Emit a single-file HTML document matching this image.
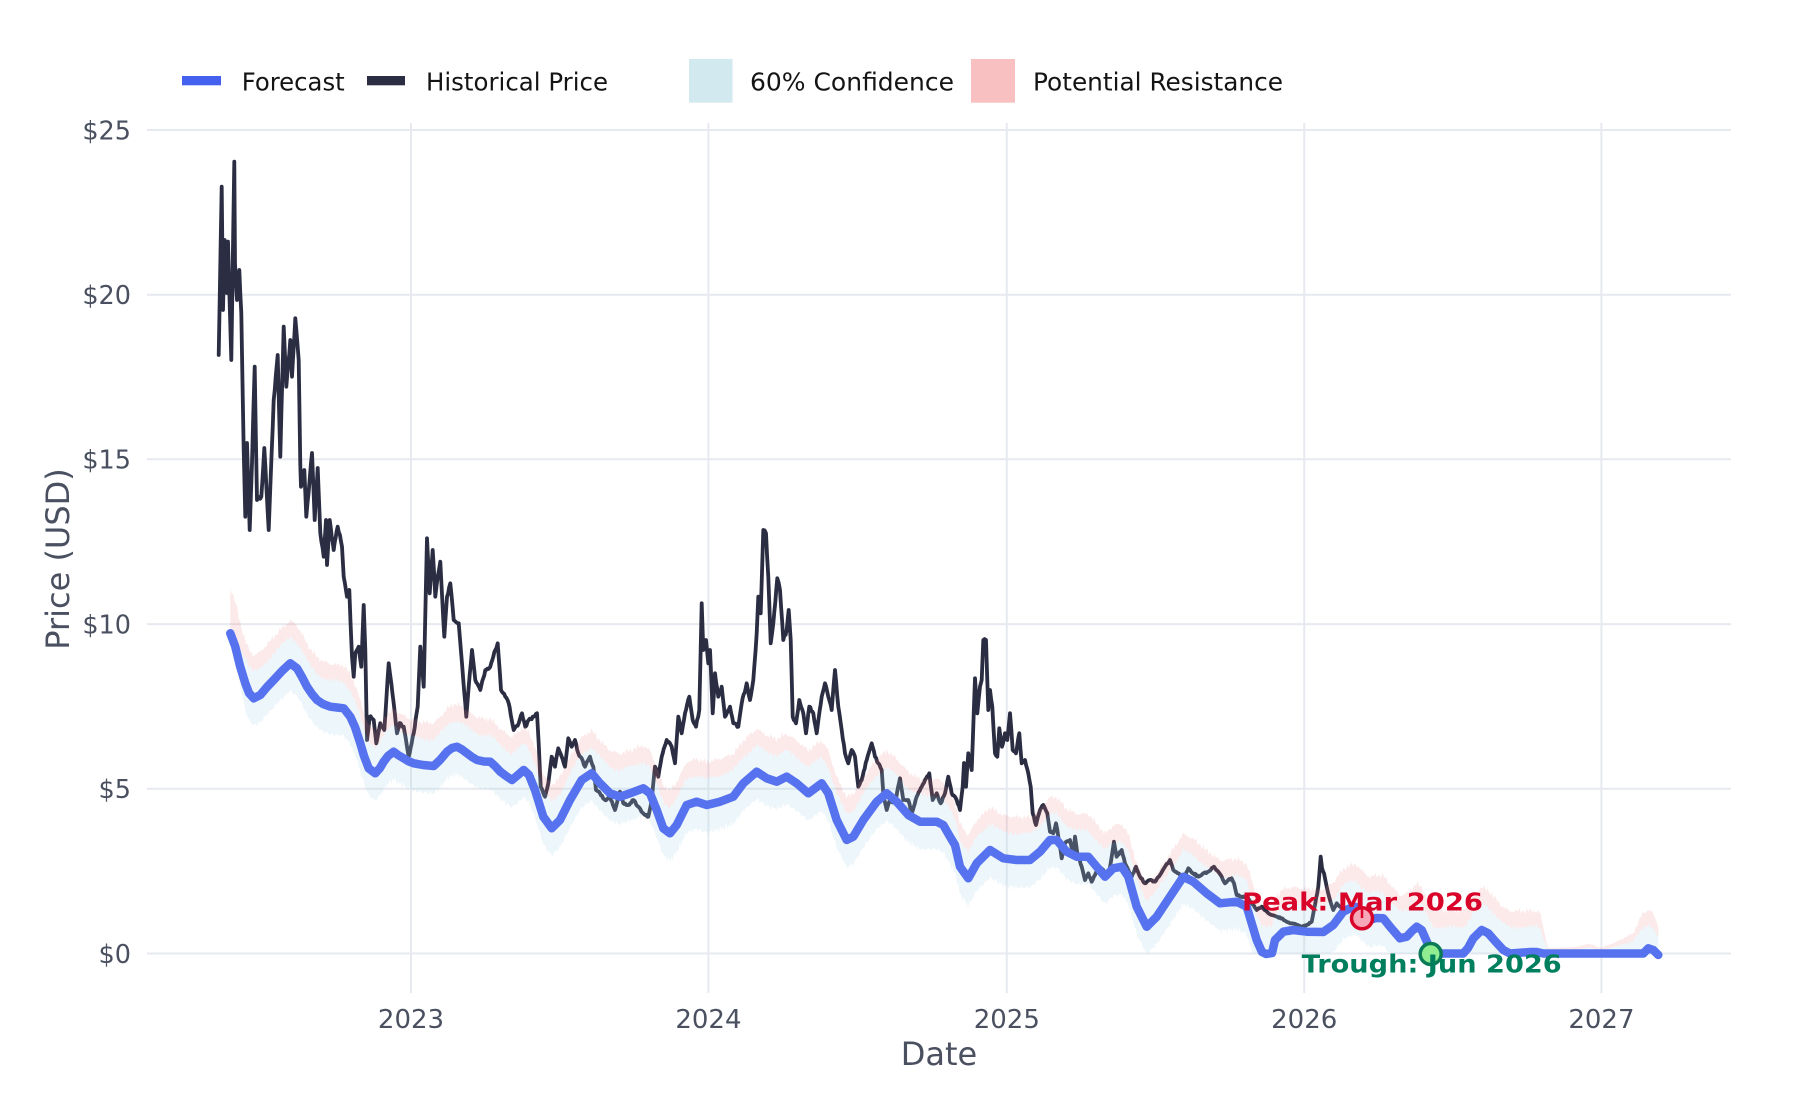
<!DOCTYPE html>
<html><head><meta charset="utf-8"><style>
html,body{margin:0;padding:0;background:#fff;}
svg{display:block;font-family:"DejaVu Sans","Liberation Sans",sans-serif;}
</style></head><body>
<svg id="c" width="1800" height="1100" viewBox="0 0 1800 1100" xmlns="http://www.w3.org/2000/svg">
<rect width="1800" height="1100" fill="#fff"/>
<!-- gridlines -->
<g stroke="#e6e9ef" stroke-width="2">
<line x1="147" y1="130" x2="1731" y2="130"/>
<line x1="147" y1="294.7" x2="1731" y2="294.7"/>
<line x1="147" y1="459.3" x2="1731" y2="459.3"/>
<line x1="147" y1="624.1" x2="1731" y2="624.1"/>
<line x1="147" y1="788.8" x2="1731" y2="788.8"/>
<line x1="147" y1="953.5" x2="1731" y2="953.5"/>
<line x1="411" y1="123" x2="411" y2="993"/>
<line x1="708.4" y1="123" x2="708.4" y2="993"/>
<line x1="1006.8" y1="123" x2="1006.8" y2="993"/>
<line x1="1304.2" y1="123" x2="1304.2" y2="993"/>
<line x1="1601.4" y1="123" x2="1601.4" y2="993"/>
</g>
<!-- y tick labels -->
<g fill="#4a5060" font-size="25.5" text-anchor="end">
<text x="131" y="139.3">$25</text>
<text x="131" y="304">$20</text>
<text x="131" y="468.6">$15</text>
<text x="131" y="633.4">$10</text>
<text x="131" y="798.1">$5</text>
<text x="131" y="962.8">$0</text>
</g>
<!-- x tick labels -->
<g fill="#4a5060" font-size="26" text-anchor="middle">
<text x="411" y="1028">2023</text>
<text x="708.4" y="1028">2024</text>
<text x="1006.8" y="1028">2025</text>
<text x="1304.2" y="1028">2026</text>
<text x="1601.4" y="1028">2027</text>
</g>
<!-- axis titles -->
<text x="939" y="1065" fill="#4a5060" font-size="32" text-anchor="middle">Date</text>
<text transform="translate(69,559) rotate(-90)" x="0" y="0" fill="#4a5060" font-size="32" text-anchor="middle">Price (USD)</text>
<!-- legend -->
<rect x="182" y="76" width="39" height="9.3" fill="#4361EE"/>
<text x="241.7" y="90.7" font-size="24.5" fill="#141414" textLength="103" lengthAdjust="spacingAndGlyphs">Forecast</text>
<rect x="367" y="76" width="38" height="9.3" fill="#2B2D42"/>
<text x="426" y="90.7" font-size="24.5" fill="#141414" textLength="182" lengthAdjust="spacingAndGlyphs">Historical Price</text>
<rect x="689" y="59" width="43.5" height="43.7" fill="#d3e9f0"/>
<text x="750" y="90.7" font-size="24.5" fill="#141414" textLength="204" lengthAdjust="spacingAndGlyphs">60% Confidence</text>
<rect x="971" y="59" width="44" height="43.7" fill="#f8c0c0"/>
<text x="1033" y="90.7" font-size="24.5" fill="#141414" textLength="250" lengthAdjust="spacingAndGlyphs">Potential Resistance</text>

<!-- historical -->
<polyline id="hist" fill="none" stroke="#2B2D42" stroke-width="3.8" stroke-linejoin="round" stroke-linecap="round" points="218.7,355 221.7,186.7 223,310 224.7,240 227,293 228,241.7 231.3,360 234.3,161.7 235,263 237,300 239.3,270 241.3,313 243.7,450 245.3,516.7 247,443 249.7,530 252,463 254.7,366.7 257,500 261.3,496.7 264.3,448 268.7,530 273.7,400 277.7,355 280.3,456.7 283.7,326.7 286.3,386.7 290.3,340 292,376.7 295.3,318.3 298.7,360 300.3,465 301,486.7 304.3,470 306.3,516.7 312,453 314.7,520 317.7,468 320.3,533 323.7,556.7 326,520 327,565 329.7,520 333.7,550 337.7,526.7 342,546.7 343.7,576.7 347,596.7 349.3,590 352,656.7 353.7,676.7 355.3,653.3 358.7,646.7 361.3,666.7 363.7,605 365.3,650 367,740 369.7,716.7 373.7,720 376.3,743.3 380.3,723.3 384.3,730 388.7,663.3 391.3,683.3 393.7,703.3 397,733.3 399.7,723 403.7,726.7 408.7,756.7 413.7,733.3 417.7,706.7 420.3,646.7 423.7,686.7 427,538.3 429.7,593.3 432.7,550 435.3,596.7 437.7,576.7 440.3,561.7 444.3,636.7 447,596.7 450.3,583.3 453.7,620 458.7,623.3 462,663.3 466.3,716.7 468.7,686.7 472,650 475.3,680 480.3,690 485.3,670 490.3,666.7 495.3,650 497.7,643.3 501,690 505.3,696.7 508.7,703.3 513.7,730 518.7,723.3 522,713.3 525.3,726.7 528.7,720 533.7,716.7 537,713.3 538.7,743.3 540.7,786.7 545,796.7 548.3,783.3 551.7,756.7 555,766.7 558.3,748.3 561.7,756.7 565,766.7 568.3,738.3 571.7,746.7 575,740 578.3,753.3 581.7,758.3 585,766.7 590,756.7 593.3,766.7 596,790 600,793.3 605,800 610,796.7 615,810 620,791.7 623.3,803.3 628.3,805 633.3,800 638.3,806.7 643.3,813.3 648.3,816.7 651.7,800 655,766.7 658.3,776.7 661.7,756.7 666.7,740 671.7,746.7 675,763.3 678.3,716.7 681.7,733.3 685,713.3 689.3,696.7 692.7,720 696,726.7 699.3,710 701.7,603.3 703.3,650 706,640 708.3,663.3 710,650 712.7,713.3 715,673.3 718.3,696.7 721.7,686.7 725,716.7 730,706.7 733.3,723.3 738.3,726.7 741.7,703.3 746.7,683.3 750,700 753.3,680 756.7,633.3 758.3,596.7 760.7,613.3 763.3,530 766,533.3 768.3,576.7 770.7,643.3 773.3,623.3 777.3,578.3 780,590 783.3,640 786.7,630 788.7,610 790.7,640 792.7,716.7 796,723.3 799.3,700 803.3,713.3 806,733.3 809.3,706.7 813.3,713.3 816.7,733.3 821.7,696.7 825,683.3 828.3,696.7 831.7,710 835,670 838.3,706.7 841.7,730 845,753.3 848.3,763.3 851.7,750 855,756.7 858.3,786.7 861.7,780 866.7,760 871.7,743.3 875,756.7 878.3,763.3 881.7,770 883.3,793.3 886.7,810 890,800 895,803.3 900,778.3 903.3,800 908.3,800 911.7,813.3 916.7,796.7 921.7,786.7 925,780 929.3,773.3 932.7,800 936.7,793.3 940.7,803.3 945,793.3 948.3,776.7 951.7,793.3 956.7,800 960,810 962.7,786.7 964,763 966,786.7 968.3,753.3 971.7,770 975,678.3 977.3,713.3 980,686.7 981.7,680 983.3,640 986,640 988.3,710 990,690 992.3,706.7 995,753.3 997.3,756.7 999.3,728.3 1002,746.7 1005,733.3 1007.3,740 1010,713.3 1012.7,750 1016,753.3 1019.3,733.3 1021.7,763.3 1025,760 1028.3,773.3 1030.7,786.7 1032.7,813.3 1036,825 1040,810 1043.3,805 1047.3,813.3 1050,831.7 1053.3,833.3 1056,823.3 1058.3,836.7 1061.7,858.3 1065,843.3 1070,840 1073.3,855 1075,836.7 1077.3,853.3 1081.7,866.7 1085,880 1088.3,873.3 1091.7,881.7 1095,875 1098.3,866.7 1103.3,870 1108.3,876.7 1111.7,856.7 1114,841.7 1116.7,856.7 1121.7,850 1125,863.3 1128.3,870 1131.7,876.7 1136,866.7 1140,876.7 1145,883.3 1150,880 1155,881.7 1160,875 1165,866.7 1170,860 1173.3,870 1178.3,873.3 1183.3,880 1188.3,868.3 1193.3,873.3 1198.3,876.7 1203.3,873.3 1208.3,871.7 1214,866.7 1218.3,871.7 1221.7,876.7 1225,883.3 1228.3,880 1231.7,878.3 1234,883.3 1236.7,895 1241.7,896.7 1246.7,896.7 1251.7,903.3 1256.7,910 1261.7,906.7 1266.7,911.7 1271.7,915 1276.7,916.7 1281.7,918.3 1286.7,921.7 1291.7,923.3 1296.7,925 1301.7,926.7 1306.7,925 1311.7,921.7 1315,905 1318.3,886.7 1320.7,856.7 1322,868 1324,873.3 1326.7,886.7 1330,900 1333.3,910 1336.7,903.3 1340,906.7"/>

<g id="bands"></g>

<!-- forecast -->
<polyline id="fc" fill="none" stroke="#5672EE" stroke-width="8.5" stroke-linejoin="round" stroke-linecap="round" points="230.3,633.3 235.3,646.7 240,666 245.3,683.3 249,693 253.7,698.3 260.3,695 267,687 273.7,680 282,671 290.3,663.3 297,668.3 302,677 307,686.7 312,694 317,700 323,704 330.3,706.7 337,707.5 343.7,708.3 350.3,716.7 355,727 360.3,743.3 364,756 368.7,768.3 375.3,773.3 380,768 383.7,761.7 388,756 393.7,751.7 398,755 403.7,758.3 408,761 413.7,763.3 423,765 433.7,766 440,760 447,751.7 452,748 457,746.7 462,749.5 467,753.3 472,757 477,760 484,761.5 490.3,761.7 495,766 500.3,771.7 506,776 512,780 518,775 523.7,770 529,775 535,790 543.3,816.7 551.7,828.3 560,820 570,800 581.7,780 591.7,773.3 600,783.3 610,793.3 620,796.7 630,793.3 643.3,788.3 650,793.3 656.7,810 663.3,828.3 670,833.3 676.7,825 686.7,805 696.7,801.7 706.7,805 720,801.7 733.3,796.7 743.3,783.3 756.7,771.7 766.7,778.3 776.7,781.7 786.7,776.7 796.7,783.3 808.3,793.3 815,788.3 821.7,783.3 828.3,793.3 836.7,820 846.7,840 853.3,836.7 863.3,820 876.7,801.7 886.7,793.3 896.7,801.7 908.3,815 920,821.7 936.7,821.7 943.3,825 950,836.7 955,845 960,866.7 968.3,878.3 976.7,863.3 990,850 1003.3,858.3 1016.7,860 1030,860 1040,851.7 1050,840 1056.7,840 1066.7,851.7 1076.7,856.7 1088.3,856.7 1096.7,866.7 1105,876.7 1113.3,868.3 1121.7,866.7 1128.3,876.7 1136.7,906.7 1146.7,926.7 1156.7,916.7 1170,896.7 1183.3,876.7 1193.3,881.7 1206.7,893.3 1220,903.3 1236.7,901.7 1246.7,906.7 1256.7,940 1262,952 1266,954 1272,953 1275,940 1283.3,931.7 1293.3,930 1306.7,931.7 1323.3,932 1333.3,925 1343.3,911.7 1350,908.3 1356,907 1361.7,913.3 1370,920 1376,918 1383.3,918.3 1390,926.7 1400,938.3 1406.7,936.7 1412,931 1416.7,926.7 1421.7,930 1428.3,945 1433.3,953.5 1463.3,953.5 1468,948 1473.3,938.3 1481.7,930 1488.3,933.3 1495,941 1503.3,950 1510,953.5 1530,952 1536.7,952 1543.3,953.5 1643.3,953.5 1648.3,948.3 1653.3,950 1658.3,955"/>

<!-- annotations -->
<text x="1362.5" y="910.7" font-size="25" font-weight="bold" fill="#D90429" text-anchor="middle" textLength="241" lengthAdjust="spacingAndGlyphs">Peak: Mar 2026</text>
<circle cx="1362" cy="918.3" r="10.5" fill="#f7a8b8" stroke="#D90429" stroke-width="3.5"/>
<line x1="1362" y1="909" x2="1362" y2="918" stroke="#D90429" stroke-width="2.5"/>
<circle cx="1430.7" cy="954" r="10.5" fill="#90EE90" stroke="#0b7a56" stroke-width="3.5"/>
<text x="1431.7" y="972.7" font-size="25" font-weight="bold" fill="#007F5F" text-anchor="middle" textLength="260" lengthAdjust="spacingAndGlyphs">Trough: Jun 2026</text>
</svg>
<script>
(function(){
  var Y0=953.5,K=32.94;
  function parse(id){return document.getElementById(id).getAttribute('points').trim().split(/\s+/).map(function(s){return s.split(',').map(Number);});}
  /* densify historical line with deterministic daily jitter */
  var seed=12345;
  function rnd(){seed=(seed*1103515245+12345)%2147483648;return seed/2147483648;}
  var hp=parse('hist'), out=[];
  for(var i=0;i<hp.length-1;i++){
    var a=hp[i],b=hp[i+1];out.push(a[0].toFixed(1)+','+a[1].toFixed(1));
    var n=Math.floor(b[0]-a[0]);
    for(var k=1;k<n;k++){
      var t=k/n,x=a[0]+t*(b[0]-a[0]),y=a[1]+t*(b[1]-a[1]);
      var v=(Y0-y)/K, amp=1.0+0.22*v;
      y+= (rnd()-0.5)*amp;
      out.push(x.toFixed(1)+','+y.toFixed(1));
    }
  }
  var last=hp[hp.length-1];out.push(last[0]+','+last[1]);
  document.getElementById('hist').setAttribute('points',out.join(' '));

  var pts=parse('fc');
  function fy(x){
    for(var i=0;i<pts.length-1;i++){
      if(x<=pts[i+1][0]){var t=(x-pts[i][0])/(pts[i+1][0]-pts[i][0]);return pts[i][1]+t*(pts[i+1][1]-pts[i][1]);}
    }
    return pts[pts.length-1][1];
  }
  var S=[[0,1],[1500,1],[1540,0.95],[1548,0.12],[1575,0.15],[1590,0.23],[1600,0.12],[1617,0.28],[1633,0.47],[1643,0.95],[1653,0.86],[1660,0.62]];
  function sc(x){
    for(var i=0;i<S.length-1;i++){ if(x<=S[i+1][0]){var t=(x-S[i][0])/(S[i+1][0]-S[i][0]);return S[i][1]+t*(S[i+1][1]-S[i][1]);} }
    return S[S.length-1][1];
  }
  var lo=[],cu=[],ru=[];
  var x0=230.3,x1=1658.3;
  for(var x=x0;x<=x1+0.01;x+=1.4){
    var y=fy(x), v=(Y0-y)/K, s=sc(x);
    var r=Math.min(1,0.15+(x-x0)/18);
    var j1=0.05*Math.sin(x*2.3)+0.04*Math.sin(x*5.7+1)+0.03*Math.sin(x*11.3+2);
    var j2=0.05*Math.sin(x*3.1+0.5)+0.04*Math.sin(x*7.3)+0.03*Math.sin(x*13.7+1);
    var j3=0.05*Math.sin(x*2.7+1.3)+0.04*Math.sin(x*6.1+0.2)+0.03*Math.sin(x*12.9);
    var l=Math.max(0,v-(0.83*r*s+j1*s));
    var c=v+(0.8*r*s+j2*s);
    var u=v+(1.3*s+j3*s)+(x<245?0.1*(245-x)/15:0);
    if(u<c)u=c;
    lo.push([x,Y0-l*K]);cu.push([x,Y0-c*K]);ru.push([x,Y0-u*K]);
  }
  function path(a,b){
    var d='M'+a.map(function(p){return p[0].toFixed(1)+','+p[1].toFixed(1);}).join('L');
    d+='L'+b.slice().reverse().map(function(p){return p[0].toFixed(1)+','+p[1].toFixed(1);}).join('L')+'Z';
    return d;
  }
  var g=document.getElementById('bands'),ns='http://www.w3.org/2000/svg';
  var p1=document.createElementNS(ns,'path');p1.setAttribute('d',path(cu,lo));p1.setAttribute('fill','rgba(173,216,230,0.22)');g.appendChild(p1);
  var p2=document.createElementNS(ns,'path');p2.setAttribute('d',path(ru,cu));p2.setAttribute('fill','rgba(240,128,128,0.17)');g.appendChild(p2);
})();
</script>
</body></html>
